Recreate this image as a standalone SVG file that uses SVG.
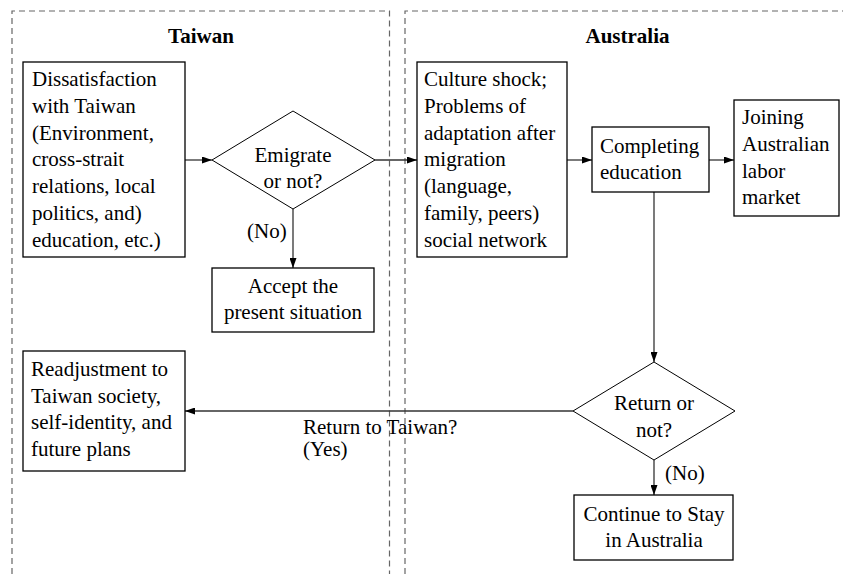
<svg xmlns="http://www.w3.org/2000/svg" width="843" height="574" viewBox="0 0 843 574">
<style>
text{font-family:"Liberation Serif","Times New Roman",serif;font-size:21px;fill:#000}
.t{font-weight:bold}
.c{text-anchor:middle}
.box{fill:#fff;stroke:#000;stroke-width:1.3}
.dia{fill:#fff;stroke:#000;stroke-width:1}
.lane{fill:none;stroke:#666;stroke-width:1.2;stroke-dasharray:6 4}
.edge{fill:none;stroke:#333;stroke-width:1.3}
</style>
<defs>
<marker id="ah" markerWidth="10" markerHeight="7" refX="10" refY="3.5" orient="auto" markerUnits="userSpaceOnUse">
<path d="M0,0 L10,3.5 L0,7 Z" fill="#000"/>
</marker>
</defs>
<rect width="843" height="574" fill="#fff"/>
<g id="lanes">
<path class="lane" d="M12,574 V11 H389.5 V574"/>
<path class="lane" d="M405,574 V11 H843"/>
<text class="t c" x="201" y="43">Taiwan</text>
<text class="t c" x="627.5" y="43">Australia</text>
</g>
<g id="connectors">
<line class="edge" x1="185" y1="160" x2="212" y2="160" marker-end="url(#ah)"/>
<line class="edge" x1="375" y1="160" x2="417" y2="160" marker-end="url(#ah)"/>
<line class="edge" x1="293" y1="209" x2="293" y2="268" marker-end="url(#ah)"/>
<text x="247" y="238">(No)</text>
<line class="edge" x1="567" y1="160" x2="592" y2="160" marker-end="url(#ah)"/>
<line class="edge" x1="709" y1="160" x2="734" y2="160" marker-end="url(#ah)"/>
<line class="edge" x1="654" y1="192" x2="654" y2="362" marker-end="url(#ah)"/>
<line class="edge" x1="573" y1="411" x2="185" y2="411" marker-end="url(#ah)"/>
<text x="303" y="434">Return to Taiwan?</text>
<text x="303" y="456">(Yes)</text>
<line class="edge" x1="654" y1="460" x2="654" y2="495" marker-end="url(#ah)"/>
<text x="665" y="480">(No)</text>
</g>
<g id="dissatisfaction">
<rect class="box" x="23" y="62" width="162" height="195"/>
<text x="32" y="86">Dissatisfaction</text>
<text x="32" y="113">with Taiwan</text>
<text x="32" y="140">(Environment,</text>
<text x="32" y="166">cross-strait</text>
<text x="32" y="193">relations, local</text>
<text x="32" y="220">politics, and)</text>
<text x="32" y="247">education, etc.)</text>
</g>
<g id="emigrate">
<polygon class="dia" points="212,160 293,111 375,160 293,209"/>
<text class="c" x="293" y="162">Emigrate</text>
<text class="c" x="293" y="188">or not?</text>
</g>
<g id="accept">
<rect class="box" x="212" y="268" width="162" height="64"/>
<text class="c" x="293" y="293">Accept the</text>
<text class="c" x="293" y="319">present situation</text>
</g>
<g id="readjustment">
<rect class="box" x="23" y="351" width="162" height="120"/>
<text x="31" y="376">Readjustment to</text>
<text x="31" y="403">Taiwan society,</text>
<text x="31" y="429">self-identity, and</text>
<text x="31" y="456">future plans</text>
</g>
<g id="culture">
<rect class="box" x="417" y="62" width="150" height="195"/>
<text x="424" y="86">Culture shock;</text>
<text x="424" y="113">Problems of</text>
<text x="424" y="140">adaptation after</text>
<text x="424" y="166">migration</text>
<text x="424" y="193">(language,</text>
<text x="424" y="220">family, peers)</text>
<text x="424" y="247">social network</text>
</g>
<g id="completing">
<rect class="box" x="592" y="127" width="117" height="65"/>
<text x="600" y="153">Completing</text>
<text x="600" y="179">education</text>
</g>
<g id="joining">
<rect class="box" x="734" y="100" width="105" height="116"/>
<text x="742" y="124">Joining</text>
<text x="742" y="151">Australian</text>
<text x="742" y="178">labor</text>
<text x="742" y="204">market</text>
</g>
<g id="return">
<polygon class="dia" points="573,411 654,362 735,411 654,460"/>
<text class="c" x="654" y="410">Return or</text>
<text class="c" x="654" y="437">not?</text>
</g>
<g id="continue">
<rect class="box" x="574" y="495" width="159" height="65"/>
<text class="c" x="654" y="521">Continue to Stay</text>
<text class="c" x="654" y="547">in Australia</text>
</g>
</svg>
